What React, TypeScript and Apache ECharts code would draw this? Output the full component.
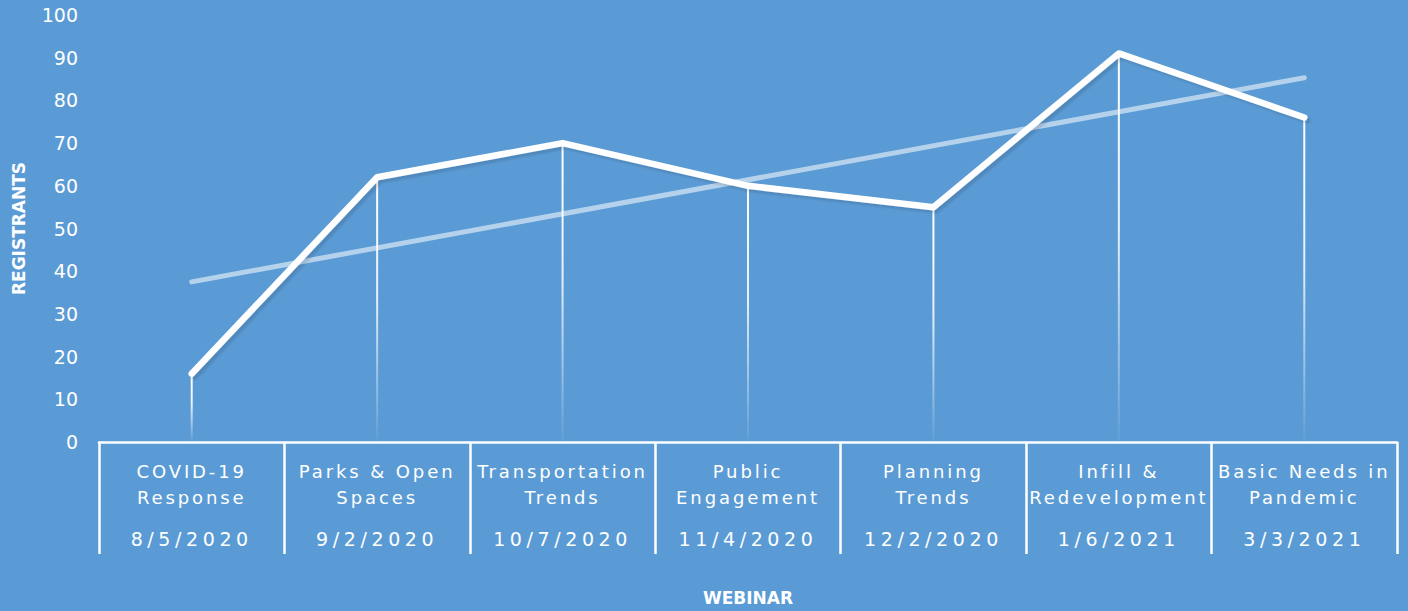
import React, { useEffect, useRef } from "react";
import * as echarts from "echarts";

const webinars = [
  "COVID-19\nResponse",
  "Parks & Open\nSpaces",
  "Transportation\nTrends",
  "Public\nEngagement",
  "Planning\nTrends",
  "Infill &\nRedevelopment",
  "Basic Needs in\nPandemic",
];
const dates = ["8/5/2020", "9/2/2020", "10/7/2020", "11/4/2020", "12/2/2020", "1/6/2021", "3/3/2021"];
const registrants = [16, 62, 70, 60, 55, 91, 76];
// linear trendline as drawn in the picture (start and end values)
const trend = [37.5, null, null, null, null, null, 85.3];

const BG = "#5B9BD5";

export default function App() {
  const ref = useRef<HTMLDivElement>(null);
  useEffect(() => {
    if (!ref.current) return;
    const chart = echarts.init(ref.current, null, { renderer: "svg" });
    chart.setOption({
      animation: false,
      backgroundColor: BG,
      grid: { left: 99, right: 11, top: 15, bottom: 167, containLabel: false },
      xAxis: {
        type: "category",
        data: webinars,
        name: "WEBINAR",
        nameLocation: "middle",
        nameGap: 147,
        nameTextStyle: { color: "#fff", fontFamily: "DejaVu Sans", fontWeight: "bold", fontSize: 17 },
        axisLine: { show: true, lineStyle: { color: "#fff", width: 2.5 } },
        axisTick: { show: true, length: 112, lineStyle: { color: "#fff", width: 2.5 } },
        axisLabel: {
          interval: 0,
          margin: 16,
          color: "#fff",
          formatter: (value: string, idx: number) =>
            value.split("\n").map((s) => `{a|${s}}`).join("\n") + `\n{d|${dates[idx]}}`,
          rich: {
            a: { color: "#fff", fontFamily: "'DejaVu Sans', xname", fontSize: 18, lineHeight: 26 },
            d: { color: "#fff", fontFamily: "'DejaVu Sans', xdate", fontSize: 19, lineHeight: 58 },
          },
        },
        splitLine: { show: false },
      },
      yAxis: {
        type: "value",
        min: 0,
        max: 100,
        interval: 10,
        name: "REGISTRANTS",
        nameLocation: "middle",
        nameGap: 72,
        nameTextStyle: { color: "#fff", fontFamily: "DejaVu Sans", fontWeight: "bold", fontSize: 17 },
        axisLine: { show: false },
        axisTick: { show: false },
        splitLine: { show: false },
        axisLabel: { color: "#fff", fontFamily: "DejaVu Sans", fontSize: 19, margin: 21 },
      },
      series: [
        {
          type: "bar",
          data: registrants,
          barWidth: 2,
          z: 1,
          silent: true,
          itemStyle: {
            color: new echarts.graphic.LinearGradient(0, 0, 0, 1, [
              { offset: 0, color: "rgba(255,255,255,1)" },
              { offset: 0.45, color: "rgba(255,255,255,0.85)" },
              { offset: 1, color: "rgba(255,255,255,0.03)" },
            ]),
          },
        },
        {
          type: "line",
          data: trend,
          connectNulls: true,
          symbol: "none",
          z: 2,
          lineStyle: { color: "rgba(255,255,255,0.55)", width: 5, cap: "round" },
        },
        {
          type: "line",
          data: registrants,
          symbol: "none",
          z: 3,
          lineStyle: {
            color: "#fff",
            width: 6.5,
            cap: "round",
            join: "round",
            shadowColor: "rgba(0,0,0,0.12)",
            shadowBlur: 2,
            shadowOffsetX: 3,
            shadowOffsetY: 3,
          },
        },
      ],
    });
    return () => chart.dispose();
  }, []);
  return (
    <div style={{ position: "fixed", left: 0, top: 0, width: 1408, height: 611, background: BG }}>
      <style>{`text[style*="xname"]{letter-spacing:2.9px}text[style*="xdate"]{letter-spacing:4.6px}`}</style>
      <div ref={ref} style={{ width: 1408, height: 611 }} />
    </div>
  );
}
